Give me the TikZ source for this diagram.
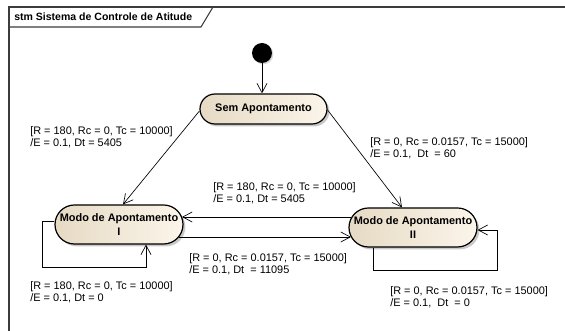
\documentclass[tikz,border=0pt]{standalone}
\usepackage{fontspec}
\setmainfont{Liberation Sans}
\usetikzlibrary{arrows.meta,shadows}
\definecolor{stateL}{RGB}{230,218,196}
\definecolor{stateR}{RGB}{251,245,234}
\definecolor{framec}{RGB}{60,60,60}
\tikzset{
  statebox/.style={draw=black, line width=0.9pt, rounded corners=#1, left color=stateL, right color=stateR,
    font=\fontsize{8.2}{9}\selectfont\bfseries, align=center, inner sep=0pt,
    drop shadow={shadow xshift=1.8pt, shadow yshift=-1.8pt, fill=black!35, opacity=0.6}},
  arr/.style={draw=black, line width=0.5pt, -{Straight Barb[length=7pt,width=7.5pt,line width=0.5pt]}},
  lbl/.style={anchor=north west, inner sep=0pt, align=left, font=\fontsize{8.2}{9.6}\selectfont},
  initst/.style={circle, fill=black, minimum size=15pt, inner sep=0pt,
    drop shadow={shadow xshift=1pt, shadow yshift=-1pt, fill=black!30, opacity=0.5}}
}
\begin{document}
\begin{tikzpicture}[x=0.75pt,y=-0.75pt]
\useasboundingbox (0,0) rectangle (565,331);
\fill[white] (0,0) rectangle (565,331);
% frame
\draw[framec, line width=0.8pt] (9,331) -- (9,7) -- (565,7);
\draw[framec, line width=0.8pt] (9,27) -- (201,27) -- (213,7);
\node[anchor=west, inner sep=0pt, font=\fontsize{7.9}{9}\selectfont\bfseries] (title) at (14,17) {stm Sistema de Controle de Atitude};

% states
\node[initst] (init) at (262,53) {};
\node[statebox=11.25pt, minimum width=95.25pt, minimum height=22.5pt] (sem) at (263.5,109) {Sem Apontamento};
\node[statebox=14.6pt, minimum width=96pt, minimum height=29.25pt] (mI) at (119,224.5) {Modo de Apontamento\\[1.5pt]I};
\node[statebox=14.6pt, minimum width=96pt, minimum height=29.25pt] (mII) at (413,227.5) {Modo de Apontamento\\[1.5pt]II};

% transitions
\draw[arr] (init.south) -- (init.south |- sem.north);
\draw[arr] ([shift={(0,2)}]sem.west) -- ([shift={(4,0)}]mI.north);
\draw[arr] ([shift={(0,1)}]sem.east) -- ([shift={(-11,0)}]mII.north);
\draw[arr] ([shift={(3,-10.5)}]mII.west) -- ([shift={(-1.5,-7.5)}]mI.east);
\draw[arr] ([shift={(-4.5,12.5)}]mI.east) -- ([shift={(2.5,9.5)}]mII.west);
\draw[arr] ([shift={(0,-3.5)}]mI.west) -- ++(-12,0) |- ([shift={(27,23)}]mI.south) -- ([shift={(27,0)}]mI.south);
\draw[arr] ([shift={(-40,0)}]mII.south) |- ([shift={(20,42.5)}]mII.east) |- ([shift={(0,2.5)}]mII.east);

% labels
\node[lbl] (l1) at (30,126) {[R = 180, Rc = 0, Tc = 10000]\\/E = 0.1, Dt = 5405};
\node[lbl] (l2) at (370,137) {[R = 0, Rc = 0.0157, Tc = 15000]\\/E = 0.1,\ \ Dt\ \ = 60};
\node[lbl] (l3) at (213,182) {[R = 180, Rc = 0, Tc = 10000]\\/E = 0.1, Dt = 5405};
\node[lbl] (l4) at (189,253) {[R = 0, Rc = 0.0157, Tc = 15000]\\/E = 0.1, Dt\ \ = 11095};
\node[lbl] (l5) at (30,281) {[R = 180, Rc = 0, Tc = 10000]\\/E = 0.1, Dt = 0};
\node[lbl] (l6) at (390,286) {[R = 0, Rc = 0.0157, Tc = 15000]\\/E = 0.1,\ \ Dt\ \ = 0};
\end{tikzpicture}
\end{document}
